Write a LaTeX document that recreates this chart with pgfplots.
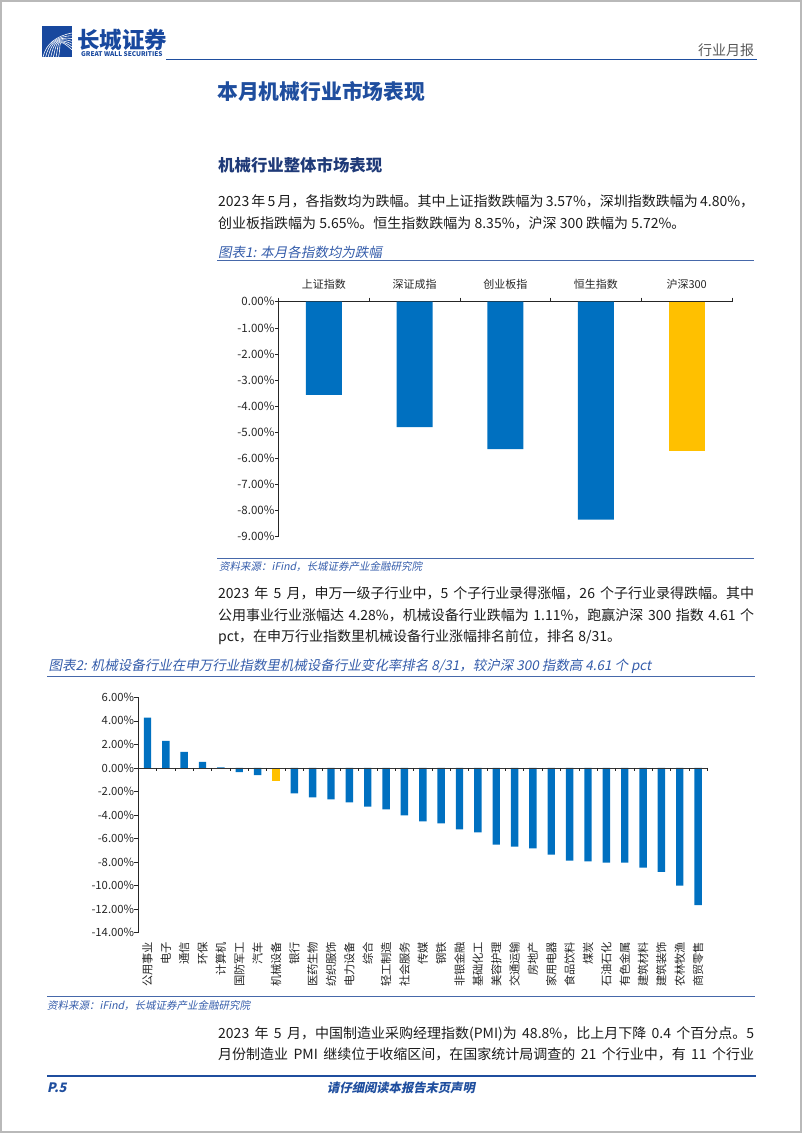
\documentclass[border=0pt]{standalone}
\usepackage{fontspec}
\usepackage{pgfplots}
\usepackage{pgfplotstable}
\pgfplotsset{compat=1.18}
\setmainfont{Noto Sans CJK SC}
\newfontfamily\itf{Noto Sans CJK SC}[FakeSlant=0.2]
\XeTeXlinebreaklocale "zh"
\XeTeXlinebreakskip=0pt plus 1pt
\definecolor{barblue}{RGB}{0,112,192}
\definecolor{baryellow}{RGB}{255,192,0}
\definecolor{logoblue}{RGB}{24,72,158}
\definecolor{titleblue}{RGB}{31,78,158}
\definecolor{navy}{RGB}{31,58,120}
\definecolor{capblue}{RGB}{52,92,170}
\definecolor{rulblue}{RGB}{70,104,170}
\definecolor{bodytext}{RGB}{28,28,28}
\newcommand{\fs}[1]{\fontsize{#1}{#1}\selectfont}
\newcommand{\jl}[1]{\hbox to 536pt{#1}}

\pgfplotstableread{
x y
0 -3.57
1 -4.80
2 -5.65
3 -8.35
}\dataA
\pgfplotstableread{
x y
4 -5.72
}\dataAy
\pgfplotstableread{
x y
0 4.28
1 2.30
2 1.36
3 0.51
4 0.04
5 -0.37
6 -0.62
8 -2.16
9 -2.50
10 -2.67
11 -2.93
12 -3.30
13 -3.52
14 -4.03
15 -4.54
16 -4.72
17 -5.22
18 -5.48
19 -6.52
20 -6.70
21 -6.85
22 -7.37
23 -7.88
24 -7.96
25 -8.05
26 -8.06
27 -8.49
28 -8.84
29 -10.02
30 -11.68
}\dataB
\pgfplotstableread{
x y
7 -1.11
}\dataBy

\begin{document}
\begin{tikzpicture}
\path[use as bounding box] (0pt,0pt) rectangle (802pt,-1133pt);
\begin{scope}[x=1pt,y=-1pt, every node/.style={inner sep=0pt, anchor=west}]
\draw[gray!55, line width=1.3pt] (0.9,0.9) rectangle (801.1,1132.1);
% logo
\fill[logoblue] (42,26) rectangle (72,57);
\foreach \i in {0,...,6}{
  \draw[white, line width=0.6pt] (43+\i*2.6,57) .. controls (46+\i*2.6,44) and (56,36) .. (72,{33+\i*2.8});
}
\node[text=logoblue] at (77,40) {\fs{22.5}\bfseries 长城证券};
\node[text=logoblue] at (81,54.5) {\fs{6.5}\bfseries GREAT WALL SECURITIES};
\node[text=black!65] at (698,50) {\fs{14}行业月报};
\draw[titleblue, line width=1.5pt] (166,59.5) -- (757,59.5);
% titles
\node[text=titleblue] at (217,91) {\fs{20.8}\bfseries 本月机械行业市场表现};
\node[text=navy] at (218,165) {\fs{16.4}\bfseries 机械行业整体市场表现};
% paragraph 1
\node[text=bodytext] at (218,201.5) {\fs{14}\jl{2023 年 5 月，各指数均为跌幅。其中上证指数跌幅为 3.57\%，深圳指数跌幅为 4.80\%，}};
\node[text=bodytext] at (218,223.5) {\fs{14}创业板指跌幅为 5.65\%。恒生指数跌幅为 8.35\%，沪深 300 跌幅为 5.72\%。};
% caption 1
\node[text=capblue] at (218,252) {\fs{13.5}\itf 图表1: 本月各指数均为跌幅};
\draw[rulblue, line width=1pt] (217,260.5) -- (754,260.5);
\draw[rulblue, line width=1pt] (217,558.3) -- (754,558.3);
\node[text=capblue] at (219,567) {\fs{10.5}\itf 资料来源：iFind，长城证券产业金融研究院};
% paragraph 2
\node[text=bodytext] at (218,593) {\fs{14}\jl{2023 年 5 月，申万一级子行业中，5 个子行业录得涨幅，26 个子行业录得跌幅。其中}};
\node[text=bodytext] at (218,615) {\fs{14}\jl{公用事业行业涨幅达 4.28\%，机械设备行业跌幅为 1.11\%，跑赢沪深 300 指数 4.61 个}};
\node[text=bodytext] at (218,637) {\fs{14}pct，在申万行业指数里机械设备行业涨幅排名前位，排名 8/31。};
% caption 2
\node[text=capblue] at (48.5,666.5) {\fs{13.5}\itf 图表2: 机械设备行业在申万行业指数里机械设备行业变化率排名 8/31，较沪深 300 指数高 4.61 个 pct};
\draw[rulblue, line width=1pt] (47,676.7) -- (754.5,676.7);
\draw[rulblue, line width=1pt] (47,996.7) -- (754.5,996.7);
\node[text=capblue] at (47,1006) {\fs{10.5}\itf 资料来源：iFind，长城证券产业金融研究院};
% paragraph 3
\node[text=bodytext] at (218,1033.5) {\fs{14}\jl{2023 年 5 月，中国制造业采购经理指数(PMI)为 48.8\%，比上月下降 0.4 个百分点。5}};
\node[text=bodytext] at (218,1054.5) {\fs{14}\jl{月份制造业 PMI 继续位于收缩区间，在国家统计局调查的 21 个行业中，有 11 个行业}};
% footer
\draw[titleblue, line width=2pt] (47,1076) -- (756,1076);
\node[text=titleblue] at (47,1087.5) {\fs{13}\itf\bfseries P.5};
\node[text=titleblue, anchor=center] at (401,1087.5) {\fs{12.3}\itf\bfseries 请仔细阅读本报告末页声明};
\end{scope}

% chart 1
\begin{axis}[
  at={(278.6pt,-301.7pt)}, anchor=north west,
  scale only axis, width=453.4pt, height=235pt,
  xmin=-0.5, xmax=4.5, ymin=-9, ymax=0,
  axis x line*=top, axis y line*=left,
  axis line style={black!85, line width=0.7pt},
  tick style={black!85, line width=0.6pt},
  tick align=outside, major tick length=4pt,
  xtick={-0.5,0.5,1.5,2.5,3.5,4.5}, xticklabels={},
  extra x ticks={0,1,2,3,4},
  extra x tick labels={上证指数,深证成指,创业板指,恒生指数,沪深300},
  extra x tick style={major tick length=0pt},
  x tick label style={font=\fs{11}, text=black!85, inner sep=0pt, anchor=south, yshift=12pt},
  ytick={-9,-8,-7,-6,-5,-4,-3,-2,-1,0},
  yticklabels={-9.00\%,-8.00\%,-7.00\%,-6.00\%,-5.00\%,-4.00\%,-3.00\%,-2.00\%,-1.00\%,0.00\%},
  y tick label style={font=\fs{11.5}, text=black!85, inner sep=0pt},
  clip=false,
]
\addplot[ybar, bar width=36pt, bar shift=0pt, fill=barblue, draw=none] table[x=x,y=y] {\dataA};
\addplot[ybar, bar width=36pt, bar shift=0pt, fill=baryellow, draw=none] table[x=x,y=y] {\dataAy};
\end{axis}

% chart 2
\begin{axis}[
  at={(138.3pt,-697.3pt)}, anchor=north west,
  scale only axis, width=569pt, height=235.2pt,
  xmin=-0.5, xmax=30.5, ymin=-14, ymax=6,
  axis x line*=bottom, axis y line*=left,
  x axis line style={draw=none},
  y axis line style={black!85, line width=0.7pt},
  xtick style={draw=none},
  ytick style={black!85, line width=0.6pt},
  tick align=outside, major tick length=4pt,
  xtick={0,...,30},
  xticklabels={公用事业,电子,通信,环保,计算机,国防军工,汽车,机械设备,银行,医药生物,纺织服饰,电力设备,综合,轻工制造,社会服务,传媒,钢铁,非银金融,基础化工,美容护理,交通运输,房地产,家用电器,食品饮料,煤炭,石油石化,有色金属,建筑材料,建筑装饰,农林牧渔,商贸零售},
  x tick label style={font=\fs{11.3}, text=black!85, inner sep=0pt, rotate=90, anchor=east},
  xticklabel shift=5pt,
  ytick={-14,-12,-10,-8,-6,-4,-2,0,2,4,6},
  yticklabels={-14.00\%,-12.00\%,-10.00\%,-8.00\%,-6.00\%,-4.00\%,-2.00\%,0.00\%,2.00\%,4.00\%,6.00\%},
  y tick label style={font=\fs{11.3}, text=black!85, inner sep=0pt},
  clip=false,
]
\addplot[ybar, bar width=7.4pt, bar shift=0pt, fill=barblue, draw=none] table[x=x,y=y] {\dataB};
\addplot[ybar, bar width=7.4pt, bar shift=0pt, fill=baryellow, draw=none] table[x=x,y=y] {\dataBy};
\draw[black!80, line width=0.7pt] (axis cs:-0.5,0) -- (axis cs:30.5,0);
\pgfplotsinvokeforeach{-0.5,0.5,...,30.5}{\draw[black!85, line width=0.6pt] (axis cs:#1,0) -- ++(0pt,-3.5pt);}
\end{axis}
\end{tikzpicture}
\end{document}
